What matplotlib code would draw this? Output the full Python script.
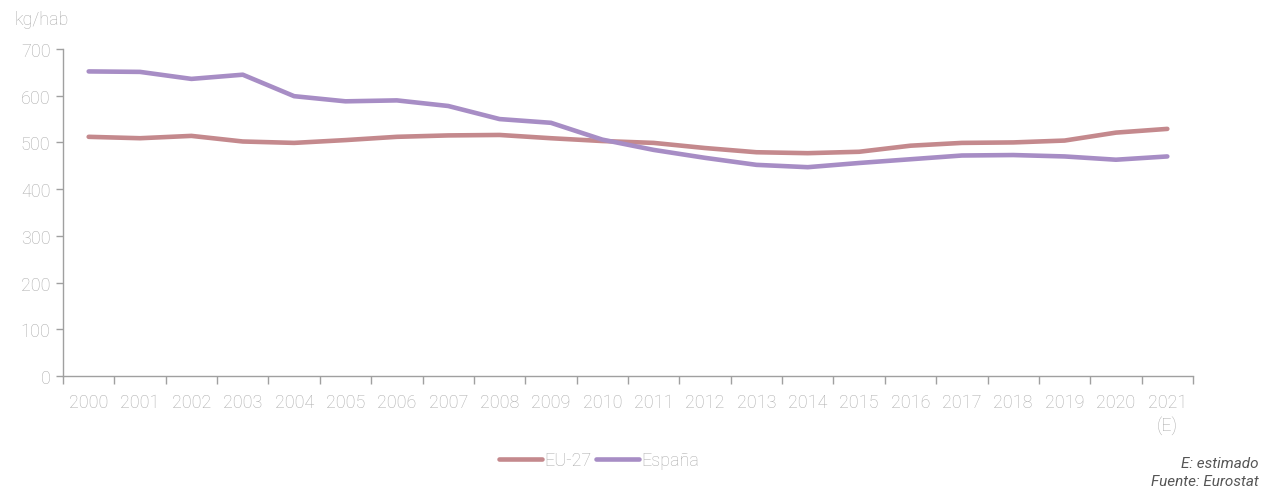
import matplotlib
matplotlib.use("Agg")
import matplotlib.pyplot as plt
from matplotlib.ticker import FixedLocator
import numpy as np

years = ["2000", "2001", "2002", "2003", "2004", "2005", "2006", "2007", "2008", "2009",
         "2010", "2011", "2012", "2013", "2014", "2015", "2016", "2017", "2018", "2019",
         "2020", "2021\n(E)"]
eu27 = [512, 509, 514, 502, 499, 505, 512, 515, 516, 509,
        503, 499, 488, 479, 477, 480, 493, 499, 500, 504,
        521, 529]
espana = [652, 651, 636, 645, 599, 588, 590, 578, 550, 542,
          506, 484, 467, 452, 447, 456, 464, 472, 473, 470,
          463, 470]
yticks = [0, 100, 200, 300, 400, 500, 600, 700]

plt.rcParams['font.family'] = ['Roboto', 'DejaVu Sans']
grey = "#ABABAB"
axis_grey = "#A0A0A0"

fig = plt.figure(figsize=(12.61, 4.89), dpi=100)
ax = fig.add_axes([63/1261, 1-377/489, (1193-63)/1261, (377-50)/489])

x = np.arange(len(years))
ax.plot(x, eu27, color="#C4898D", lw=3.3, solid_capstyle='round', solid_joinstyle='round', label="EU-27")
ax.plot(x, espana, color="#A78DC5", lw=3.3, solid_capstyle='round', solid_joinstyle='round', label="España")

ax.set_xlim(-0.5, len(years) - 0.5)
ax.set_ylim(0, 700)
ax.set_yticks(yticks)
ax.set_yticklabels([str(v) for v in yticks], fontweight='light')

ax.set_xticks(x)
ax.set_xticklabels(years, fontweight='light', linespacing=1.3)
ax.xaxis.set_minor_locator(FixedLocator(np.arange(-0.5, len(years), 1.0)))
ax.tick_params(axis='x', which='major', length=0, pad=12, labelsize=13, labelcolor=grey)
ax.tick_params(axis='x', which='minor', length=6, width=1, color=axis_grey)
ax.tick_params(axis='y', length=5, width=1, color=axis_grey, labelsize=13, labelcolor=grey, pad=4)

for s in ['top', 'right']:
    ax.spines[s].set_visible(False)
for s in ['left', 'bottom']:
    ax.spines[s].set_color(axis_grey)
    ax.spines[s].set_linewidth(1)

fig.text(14/1261, 1-20/489, "kg/hab", fontsize=13, color=grey, fontweight='light', va='center', ha='left')

leg = fig.legend(loc='center', bbox_to_anchor=(599/1261, 1-461/489), ncol=2, frameon=False,
                 fontsize=13, handlelength=2.4, handletextpad=0.1, columnspacing=0.25)
for t in leg.get_texts():
    t.set_color(grey)
    t.set_fontweight('light')

fig.text(1259/1261, 1-464/489, "E: estimado", fontsize=11, color="#555555", style='italic',
         ha='right', va='center')
fig.text(1259/1261, 1-482/489, "Fuente: Eurostat", fontsize=11, color="#555555", style='italic',
         ha='right', va='center')

fig.savefig("out.png", dpi=100)
